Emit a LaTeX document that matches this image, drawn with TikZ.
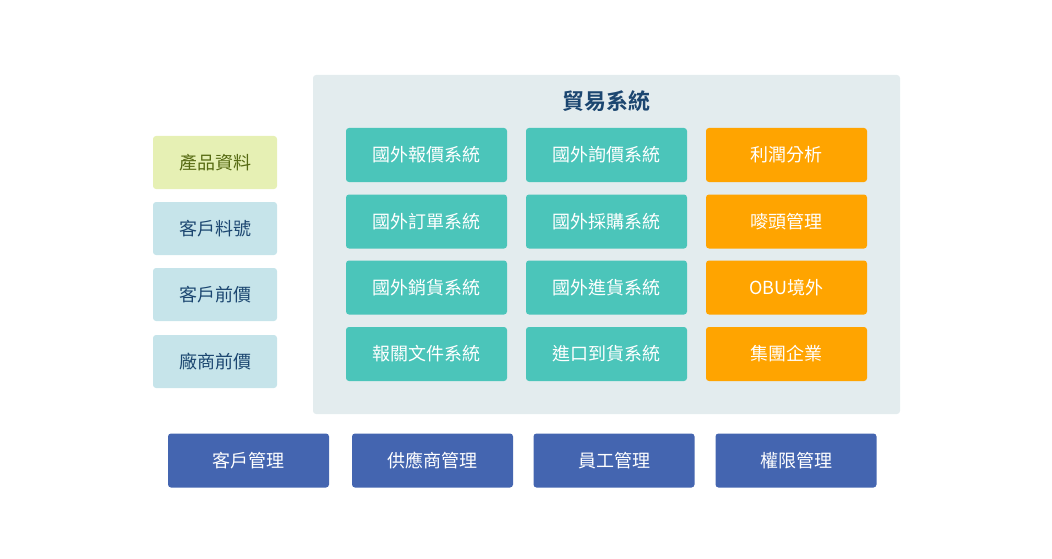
\documentclass[tikz,border=0pt]{standalone}
\usepackage{fontspec}
\newfontfamily\cjk{Noto Sans CJK TC}
\newfontfamily\cjkb{Noto Sans CJK TC Bold}
\definecolor{panel}{HTML}{E3ECEE}
\definecolor{teal}{HTML}{4BC5BA}
\definecolor{orng}{HTML}{FFA400}
\definecolor{bblue}{HTML}{4465B0}
\definecolor{lblue}{HTML}{C6E4EA}
\definecolor{lgreen}{HTML}{E6F0B4}
\definecolor{olive}{HTML}{566A12}
\definecolor{dblue}{HTML}{1B4670}
\begin{document}
\begin{tikzpicture}[x=1pt,y=-1pt,
  base/.style={rounded corners=3pt,inner sep=0pt,font=\cjk\fontsize{18}{20}\selectfont},
  sysbox/.style={base,fill=teal,text=white,minimum width=161pt,minimum height=54pt},
  orbox/.style={base,fill=orng,text=white,minimum width=161pt,minimum height=54pt},
  botbox/.style={base,fill=bblue,text=white,minimum width=161pt,minimum height=54pt},
  sidebox/.style={base,fill=lblue,text=dblue,minimum width=124pt,minimum height=53pt},
  greenbox/.style={base,fill=lgreen,text=olive,minimum width=124pt,minimum height=53pt}]
\useasboundingbox (0,0) rectangle (1052,559);
\fill[panel,rounded corners=3pt] (313,75) rectangle (900,414);
\node[font=\cjkb\fontsize{22}{24}\selectfont,text=dblue] (title) at (606,101) {貿易系統};
% column 1
\node[sysbox] (a1) at (426.5,155) {國外報價系統};
\node[sysbox] (a2) at (426.5,221.5) {國外訂單系統};
\node[sysbox] (a3) at (426.5,287.5) {國外銷貨系統};
\node[sysbox] (a4) at (426.5,354) {報關文件系統};
% column 2
\node[sysbox] (b1) at (606.5,155) {國外詢價系統};
\node[sysbox] (b2) at (606.5,221.5) {國外採購系統};
\node[sysbox] (b3) at (606.5,287.5) {國外進貨系統};
\node[sysbox] (b4) at (606.5,354) {進口到貨系統};
% column 3
\node[orbox] (c1) at (786.5,155) {利潤分析};
\node[orbox] (c2) at (786.5,221.5) {嘜頭管理};
\node[orbox] (c3) at (786.5,287.5) {OBU境外};
\node[orbox] (c4) at (786.5,354) {集團企業};
% left
\node[greenbox] (l1) at (215,162.5) {產品資料};
\node[sidebox] (l2) at (215,228.5) {客戶料號};
\node[sidebox] (l3) at (215,294.5) {客戶前價};
\node[sidebox] (l4) at (215,361.5) {廠商前價};
% bottom
\node[botbox] (d1) at (248.5,460.5) {客戶管理};
\node[botbox] (d2) at (432.5,460.5) {供應商管理};
\node[botbox] (d3) at (614,460.5) {員工管理};
\node[botbox] (d4) at (796,460.5) {權限管理};
\end{tikzpicture}
\end{document}
